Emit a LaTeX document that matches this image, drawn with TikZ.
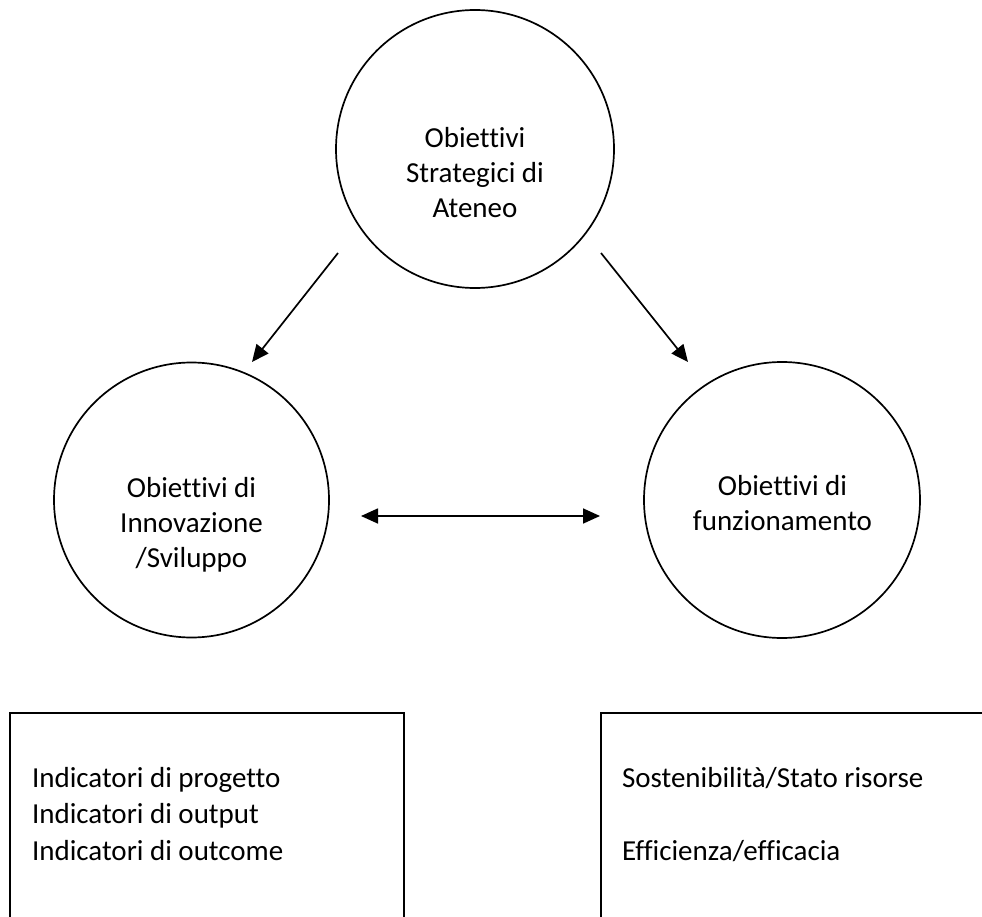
\documentclass[tikz,border=0pt]{standalone}
\usepackage{fontspec}
\setmainfont{Carlito}[Ligatures=NoCommon]
\usetikzlibrary{arrows.meta}
\begin{document}
\begin{tikzpicture}[x=1pt,y=-1pt,
  every node/.style={inner sep=0pt, outer sep=0pt},
  ring/.style={draw, circle, line width=1.7pt, minimum size=#1},
  lbl/.style={font=\fontsize{29}{35}\selectfont, align=center},
  boxtxt/.style={font=\fontsize{29}{36.5}\selectfont, align=left, anchor=base west},
  frame/.style={draw, line width=1.7pt, anchor=north west, minimum height=260pt},
  arr/.style={-{Triangle[length=17pt,width=15pt]}, line width=1.7pt},
  darr/.style={{Triangle[length=17pt,width=15pt]}-{Triangle[length=17pt,width=15pt]}, line width=1.7pt}]
\useasboundingbox (0,0) rectangle (982,917);
\clip (0,0) rectangle (982,917);
% circles
\node[ring=278pt] (top) at (475,149) {};
\node[ring=275pt] (left) at (191.5,500) {};
\node[ring=276pt] (right) at (782,500) {};
% circle texts
\node[lbl] (toptxt) at (475,173) {Obiettivi\\Strategici di\\Ateneo};
\node[lbl] (lefttxt) at (191.5,525) {Obiettivi di\\Innovazione\\/Sviluppo};
\node[lbl] (righttxt) at (782.5,503) {Obiettivi di\\funzionamento};
% arrows
\coordinate (a1s) at (338,253); \coordinate (a1e) at (252,362);
\coordinate (a2s) at (601,253); \coordinate (a2e) at (688,362);
\coordinate (a3s) at (361,516); \coordinate (a3e) at (600,516);
\draw[arr] (a1s) -- (a1e);
\draw[arr] (a2s) -- (a2e);
\draw[darr] (a3s) -- (a3e);
% boxes
\node[frame, minimum width=394pt] (lbox) at (10,713) {};
\node[frame, minimum width=420pt] (rbox) at (601,713) {};
\node[boxtxt] (ltxt) at (32,860) {Indicatori di progetto\\Indicatori di output\\Indicatori di outcome};
\node[boxtxt] (rtxt) at (622,860) {Sostenibilità/Stato risorse\\[36pt]Efficienza/efficacia};
\end{tikzpicture}
\end{document}
